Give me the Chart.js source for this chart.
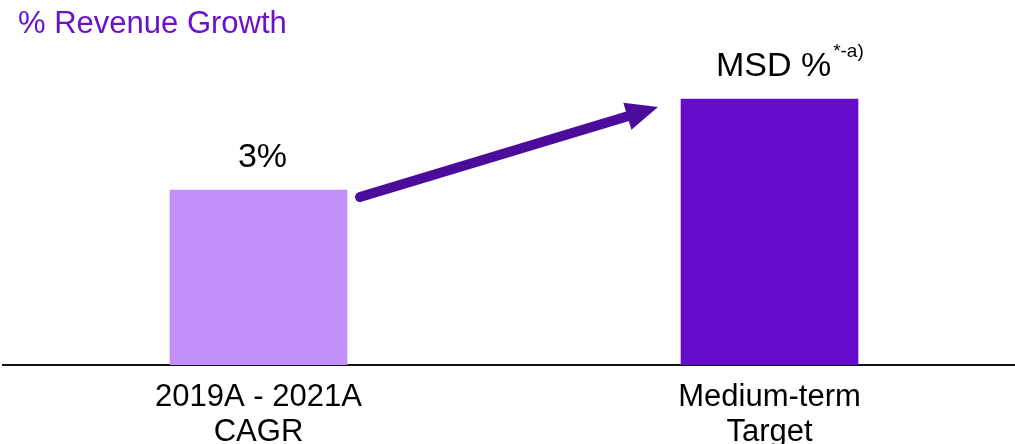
<!DOCTYPE html>
<html>
<head>
<meta charset="utf-8">
<script src="https://cdn.jsdelivr.net/npm/chart.js@4/dist/chart.umd.min.js"></script>
<style>
  html, body { margin: 0; padding: 0; background: #fff; overflow: hidden; }
  #wrap { width: 1015px; height: 444px; position: relative; }
</style>
</head>
<body>
<div id="wrap"><canvas id="c"></canvas></div>
<script>
// ---- data ----
const chartTitle = '% Revenue Growth';
const categories = [['2019A - 2021A', 'CAGR'], ['Medium-term', 'Target']];
const growthValues = [3, 4.56];           // MSD
const valueLabels = ['3%', 'MSD %'];
const valueNotes = ['', '*-a)'];
const barColors = ['#C18FF8', '#660CCB'];

const FONT = '"Liberation Sans", Arial, Helvetica, sans-serif';

const overlayPlugin = {
  id: 'overlay',
  afterDatasetsDraw(chart) {
    const ctx = chart.ctx;
    const meta = chart.getDatasetMeta(0);
    const bars = meta.data;
    ctx.save();
    // title
    ctx.fillStyle = '#6A11CB';
    ctx.font = '31px ' + FONT;
    ctx.textAlign = 'left';
    ctx.textBaseline = 'alphabetic';
    ctx.fillText(chartTitle, 18, 33);

    // value labels
    bars.forEach((bar, i) => {
      ctx.fillStyle = '#000';
      ctx.font = '34px ' + FONT;
      ctx.textAlign = 'center';
      ctx.textBaseline = 'alphabetic';
      const tx = bar.x + 4;
      const ty = bar.y - 23;
      ctx.fillText(valueLabels[i], tx, ty);
      if (valueNotes[i]) {
        const w = ctx.measureText(valueLabels[i]).width;
        ctx.font = '19px ' + FONT;
        ctx.textAlign = 'left';
        ctx.fillText(valueNotes[i], tx + w / 2 + 2, ty - 19);
      }
    });

    // arrow from first bar to second bar
    const b0 = bars[0], b1 = bars[1];
    const sx = b0.x + b0.width / 2 + 13, sy = b0.y + 7;
    const ex = b1.x - b1.width / 2 - 23, ey = b1.y + 8;
    const ang = Math.atan2(ey - sy, ex - sx);
    const headLen = 32, headHalf = 14;
    const bx = ex - headLen * Math.cos(ang), by = ey - headLen * Math.sin(ang);
    ctx.strokeStyle = '#4B0C9C';
    ctx.fillStyle = '#4B0C9C';
    ctx.lineWidth = 10;
    ctx.lineCap = 'round';
    ctx.beginPath();
    ctx.moveTo(sx, sy);
    ctx.lineTo(bx + 2 * Math.cos(ang), by + 2 * Math.sin(ang));
    ctx.stroke();
    ctx.beginPath();
    ctx.moveTo(ex, ey);
    ctx.lineTo(bx - headHalf * Math.sin(ang), by + headHalf * Math.cos(ang));
    ctx.lineTo(bx + headHalf * Math.sin(ang), by - headHalf * Math.cos(ang));
    ctx.closePath();
    ctx.fill();
    ctx.restore();
  }
};

new Chart(document.getElementById('c'), {
  type: 'bar',
  data: {
    datasets: [{
      data: growthValues.map((v, i) => ({ x: i, y: v })),
      backgroundColor: barColors,
      borderWidth: 0,
      barThickness: 177
    }]
  },
  options: {
    responsive: true,
    maintainAspectRatio: false,
    animation: false,
    layout: { padding: { top: 60, left: 3, right: 0, bottom: 0 } },
    plugins: { legend: { display: false }, tooltip: { enabled: false }, title: { display: false } },
    scales: {
      x: {
        type: 'linear',
        offset: false,
        min: -0.5000,
        max: 1.4804,
        afterBuildTicks(scale) { scale.ticks = [{ value: 0 }, { value: 1 }]; },
        afterFit(scale) { scale.height = 79; },
        grid: { display: false, drawTicks: false, offset: false },
        border: { display: true, color: '#111', width: 2 },
        ticks: {
          autoSkip: false,
          maxRotation: 0,
          padding: 15,
          color: '#000',
          font: { family: FONT, size: 31, lineHeight: 1.12 },
          callback: (v) => categories[v] || ''
        }
      },
      y: {
        display: false,
        min: 0,
        max: 5.2286
      }
    }
  },
  plugins: [overlayPlugin]
});
</script>
</body>
</html>
